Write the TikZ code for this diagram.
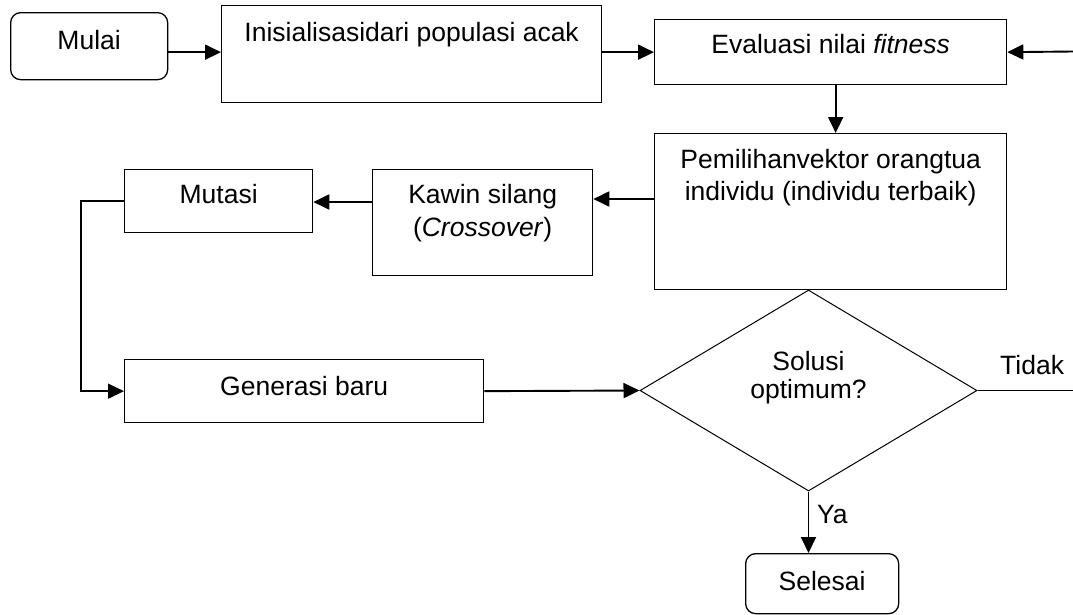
\documentclass[tikz,border=0pt]{standalone}
\usepackage{fontspec}
\setmainfont{Liberation Sans}
\usetikzlibrary{arrows.meta,shapes.geometric,calc}
\begin{document}
\begin{tikzpicture}[x=1pt,y=-1pt,
  every node/.style={font=\fontsize{26.5}{31.5}\selectfont},
  box/.style={draw, line width=1.3pt, inner sep=0pt, anchor=north west, align=center},
  rbox/.style={box, rounded corners=10pt},
  arr/.style={line width=1.9pt, -{Triangle[length=16pt,width=15pt]}},
  plain/.style={line width=1.9pt},
  decision/.style={draw, diamond, line width=1pt, inner sep=0pt, minimum width=337pt, minimum height=201pt, align=center}
]
\useasboundingbox (0,0) rectangle (1073,614);

\node[rbox, minimum width=157pt, text height=37pt, text depth=30pt] (mulai) at (10,12) {Mulai};
\node[box, minimum width=380pt, text height=36pt, text depth=61pt] (init) at (221,5) {Inisialisasidari populasi acak};
\node[box, minimum width=352pt, text height=34pt, text depth=31pt] (eval) at (654,19) {Evaluasi nilai \textit{fitness}};
\node[box, minimum width=352pt, text height=66.5pt, text depth=89.5pt] (pem) at (654,133) {Pemilihanvektor orangtua\\individu (individu terbaik)};
\node[box, minimum width=220pt, text height=67pt, text depth=39pt, font=\fontsize{26.5}{33}\selectfont] (kawin) at (372,169) {Kawin silang\\(\textit{Crossover})};
\node[box, minimum width=188pt, text height=34pt, text depth=29pt] (mutasi) at (124,169) {Mutasi};
\node[box, minimum width=359pt, text height=36pt, text depth=27pt] (gen) at (124,359) {Generasi baru};
\node[decision, text height=35pt, text depth=20pt, font=\fontsize{26.5}{28}\selectfont] (dia) at (808.5,390.5) {Solusi\\optimum?};
\node[rbox, minimum width=153pt, text height=37pt, text depth=23pt] (sel) at (745,553) {Selesai};

\coordinate (rin) at (1073,51.5);
\coordinate (tout) at (1073,390.5);
\coordinate (e1) at ([xshift=5pt]eval.south);
\coordinate (p1) at ([yshift=-66pt]pem.north west);
\coordinate (k1) at ([yshift=-33pt]kawin.north west);

\draw[arr] (mulai.east |- eval.west) -- (init.west |- eval.west);
\draw[arr] (init.east |- eval.west) -- (eval.west);
\draw[arr] (rin) -- (eval.east);
\draw[arr] (e1) -- (e1 |- pem.north);
\draw[arr] (p1) -- (p1 -| kawin.east);
\draw[arr] (k1) -- (k1 -| mutasi.east);
\draw[arr, line width=1.5pt] (mutasi.west) -- ++(-43,0) |- (gen.west);
\draw[arr] (gen.east) -- (dia.west);
\draw[plain] (dia.east) -- (tout);
\draw[arr] (dia.south) -- (dia.south |- sel.north);

\node[anchor=base west, inner sep=0pt] (tidak) at (1000,374) {Tidak};
\node[anchor=base west, inner sep=0pt] (ya) at (817,523) {Ya};
\end{tikzpicture}
\end{document}
